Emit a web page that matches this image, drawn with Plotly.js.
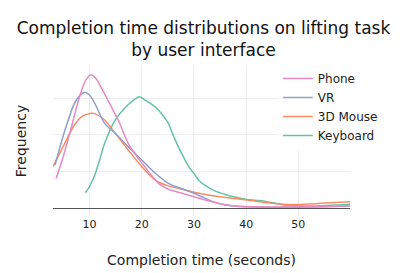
<!DOCTYPE html>
<html>
<head>
<meta charset="utf-8">
<script src="https://cdn.plot.ly/plotly-3.0.1.min.js"></script>
<style>html,body{margin:0;padding:0;background:#fff;}#chart{width:407px;height:273px;}</style>
</head>
<body>
<div id="chart"></div>
<script>
// Series names (drawing order; legend shown reversed)
const seriesNames = ["Keyboard", "3D Mouse", "VR", "Phone"];
const seriesColors = ["#66c2a5", "#fc8d62", "#8da0cb", "#e78ac3"];

// Completion time (seconds) sample points for each density curve
const keyboardX = [9.2, 10, 11, 12, 12.9, 14, 14.9, 16.8, 18.4, 19.5, 20.6, 22, 23.2, 25.1, 26, 27, 28, 29, 30, 31, 32, 34, 36, 38, 40.2, 42.5, 44, 46, 48, 52, 56, 60];
const keyboardY = [0.0085, 0.012, 0.018, 0.027, 0.0354, 0.043, 0.0481, 0.0548, 0.0588, 0.0608, 0.059, 0.0565, 0.0536, 0.0463, 0.040, 0.0336, 0.028, 0.0227, 0.019, 0.015, 0.0128, 0.0095, 0.0075, 0.006, 0.0048, 0.0042, 0.0036, 0.0025, 0.0016, 0.0012, 0.0016, 0.0022];

const mouseX = [3.0, 5, 7, 8.5, 10.3, 11, 12.9, 14.9, 17.4, 20, 22.6, 25.1, 28.3, 32.2, 35, 40.2, 44, 47, 50, 54.3, 60];
const mouseY = [0.0227, 0.034, 0.045, 0.050, 0.0518, 0.0516, 0.0481, 0.041, 0.0318, 0.0227, 0.0154, 0.0122, 0.010, 0.0075, 0.0063, 0.0045, 0.003, 0.0022, 0.0021, 0.0027, 0.0036];

const vrX = [3.4, 5.2, 7.1, 8.2, 9.1, 10, 11, 12.9, 14.9, 17.4, 20, 22.6, 25.1, 28.3, 30, 32.2, 33.8, 36, 40, 45, 50, 55, 60];
const vrY = [0.0236, 0.0417, 0.0572, 0.0617, 0.0632, 0.0617, 0.0572, 0.0463, 0.0409, 0.0336, 0.0263, 0.0191, 0.0136, 0.010, 0.0082, 0.0054, 0.0035, 0.0018, 0.0008, 0.0006, 0.0006, 0.0009, 0.0012];

const phoneX = [3.6, 5, 6.5, 8, 9.3, 10.3, 11.3, 12.2, 13.5, 15.5, 17.4, 19.35, 21.3, 23.2, 25.1, 27.7, 30, 32.2, 35, 37.6, 42, 48, 54, 60];
const phoneY = [0.0163, 0.0285, 0.044, 0.060, 0.0700, 0.0726, 0.0705, 0.066, 0.059, 0.0481, 0.0354, 0.0272, 0.020, 0.0136, 0.0104, 0.0082, 0.0063, 0.0045, 0.0025, 0.0013, 0.0008, 0.0007, 0.0009, 0.0013];

const xs = [keyboardX, mouseX, vrX, phoneX];
const ys = [keyboardY, mouseY, vrY, phoneY];

const traces = seriesNames.map((name, i) => ({
  type: "scatter",
  mode: "lines",
  name: name,
  x: xs[i],
  y: ys[i],
  line: {color: seriesColors[i], width: 1.5, shape: "spline", smoothing: 0.8}
}));

const fontFam = "Verdana, 'DejaVu Sans', sans-serif";

const layout = {
  width: 407,
  height: 273,
  margin: {l: 53, r: 57, t: 66, b: 57},
  paper_bgcolor: "#fff",
  plot_bgcolor: "#fff",
  font: {family: fontFam, color: "#222", size: 12},
  title: {
    text: "Completion time distributions on lifting task<br>by user interface",
    font: {family: fontFam, size: 17, color: "#111"},
    x: 0.5, xanchor: "center", xref: "container",
    y: 0.877, yanchor: "top", yref: "container"
  },
  xaxis: {
    range: [3.0, 59.9],
    dtick: 10,
    tick0: 0,
    showgrid: true,
    gridcolor: "#eee",
    zeroline: false,
    ticks: "",
    tickfont: {family: fontFam, size: 11, color: "#222"},
    title: {text: "Completion time (seconds)", font: {family: fontFam, size: 14, color: "#222"}, standoff: 25}
  },
  yaxis: {
    range: [-0.0042, 0.07755],
    dtick: 0.02,
    showgrid: true,
    gridcolor: "#eee",
    zeroline: true,
    zerolinecolor: "#555",
    zerolinewidth: 1.5,
    showticklabels: false,
    ticks: "",
    title: {text: "Frequency", font: {family: fontFam, size: 14, color: "#222"}, standoff: 22}
  },
  legend: {
    traceorder: "reversed",
    x: 0.757, xanchor: "left",
    y: 1.013, yanchor: "top",
    bgcolor: "rgba(255,255,255,1)",
    font: {family: fontFam, size: 12, color: "#222"}
  },
  showlegend: true
};

Plotly.newPlot("chart", traces, layout, {displayModeBar: false, staticPlot: true});
</script>
</body>
</html>
